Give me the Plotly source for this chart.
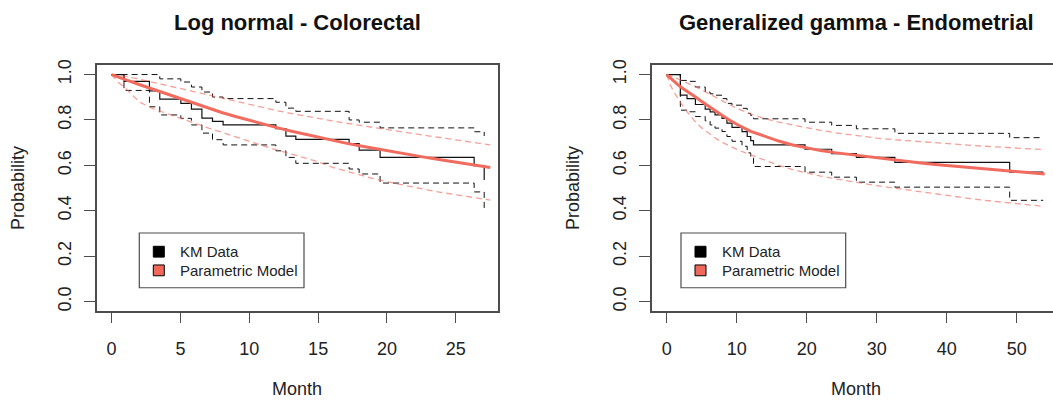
import plotly.graph_objects as go

# ---------------- Colorectal: Kaplan-Meier estimate with 95% CI ----------------
crc_km_t = [0, 0.9, 2.75, 3.5, 5.03, 5.8, 6.56, 7.33, 8.1, 11.93, 12.66, 13.38, 17.25, 17.98, 19.5, 26.33, 27.06]
crc_km_s = [1.0, 0.97, 0.928, 0.892, 0.873, 0.848, 0.808, 0.794, 0.778, 0.762, 0.729, 0.714, 0.696, 0.667, 0.635, 0.599, 0.536]
crc_km_hi = [1.0, 1.0, 1.0, 0.981, 0.967, 0.945, 0.923, 0.901, 0.894, 0.878, 0.852, 0.838, 0.80, 0.79, 0.765, 0.748, 0.729]
crc_km_lo = [1.0, 0.93, 0.858, 0.822, 0.807, 0.778, 0.742, 0.713, 0.69, 0.664, 0.635, 0.609, 0.584, 0.562, 0.522, 0.483, 0.396]

# Log-normal fit with pointwise band
crc_fit_t = [0, 0.5, 1, 2, 3, 4, 5, 6, 7, 8, 9, 10, 11, 12, 13, 14, 15, 16, 17, 18, 19, 20,
             21, 22, 23, 24, 25, 26, 27, 27.5]
crc_fit_s = [1.0, 0.99, 0.978, 0.956, 0.935, 0.914, 0.893, 0.872, 0.852, 0.833, 0.815, 0.798,
             0.782, 0.766, 0.751, 0.737, 0.723, 0.710, 0.698, 0.686, 0.675, 0.664, 0.653,
             0.643, 0.633, 0.624, 0.614, 0.605, 0.596, 0.591]
crc_fit_hi = [1.0, 0.997, 0.992, 0.98, 0.966, 0.951, 0.937, 0.923, 0.909, 0.895, 0.881, 0.867,
              0.854, 0.841, 0.829, 0.817, 0.806, 0.796, 0.786, 0.776, 0.766, 0.757, 0.748,
              0.739, 0.730, 0.721, 0.712, 0.703, 0.694, 0.690]
crc_fit_lo = [1.0, 0.965, 0.94, 0.88, 0.85, 0.828, 0.806, 0.785, 0.765, 0.746, 0.725, 0.705,
              0.686, 0.668, 0.650, 0.633, 0.616, 0.592, 0.575, 0.558, 0.542, 0.528, 0.515,
              0.503, 0.491, 0.480, 0.470, 0.461, 0.452, 0.447]

# ---------------- Endometrial: Kaplan-Meier estimate with 95% CI ----------------
end_km_t = [0, 1.95, 2.9, 4.1, 5.5, 6.2, 6.9, 7.9, 8.6, 9.33, 10.76, 11.5, 12.0, 12.4, 19.76,
            23.57, 27.1, 32.6, 49.0, 53.8]
end_km_s = [1.0, 0.909, 0.894, 0.868, 0.848, 0.836, 0.822, 0.807, 0.786, 0.767, 0.749, 0.727,
            0.709, 0.69, 0.671, 0.652, 0.635, 0.613, 0.570, 0.570]
end_km_hi = [1.0, 0.974, 0.97, 0.945, 0.923, 0.915, 0.909, 0.894, 0.873, 0.865, 0.851, 0.829,
             0.82, 0.805, 0.79, 0.776, 0.761, 0.741, 0.722, 0.722]
end_km_lo = [1.0, 0.843, 0.836, 0.815, 0.796, 0.778, 0.764, 0.749, 0.727, 0.706, 0.684, 0.655,
             0.633, 0.595, 0.570, 0.548, 0.526, 0.504, 0.446, 0.446]

# Generalized gamma fit with pointwise band
end_fit_t = [0, 0.5, 1, 1.5, 2, 3, 4, 5, 6, 7, 8, 9, 10, 12, 14, 16, 18, 20, 22, 24, 26, 28,
             30, 32, 34, 36, 38, 40, 42, 44, 46, 48, 50, 52, 54]
end_fit_s = [1.0, 0.985, 0.971, 0.958, 0.945, 0.922, 0.903, 0.881, 0.859, 0.838, 0.818, 0.799,
             0.781, 0.750, 0.727, 0.707, 0.690, 0.676, 0.665, 0.656, 0.648, 0.640, 0.632,
             0.624, 0.617, 0.611, 0.605, 0.600, 0.595, 0.590, 0.585, 0.580, 0.574, 0.568, 0.562]
end_fit_hi = [1.0, 0.995, 0.989, 0.982, 0.975, 0.962, 0.948, 0.932, 0.916, 0.899, 0.882, 0.866,
              0.851, 0.826, 0.806, 0.790, 0.777, 0.765, 0.754, 0.744, 0.735, 0.727, 0.720,
              0.714, 0.709, 0.704, 0.699, 0.695, 0.691, 0.687, 0.683, 0.679, 0.675, 0.672, 0.669]
end_fit_lo = [1.0, 0.955, 0.925, 0.898, 0.875, 0.832, 0.795, 0.765, 0.740, 0.719, 0.700, 0.684,
              0.670, 0.646, 0.622, 0.600, 0.581, 0.566, 0.553, 0.541, 0.530, 0.520, 0.511,
              0.502, 0.493, 0.484, 0.476, 0.467, 0.459, 0.451, 0.444, 0.437, 0.431, 0.425, 0.419]

titles = ["Log normal - Colorectal", "Generalized gamma - Endometrial"]
x_ticks = [[0, 5, 10, 15, 20, 25], [0, 10, 20, 30, 40, 50]]
y_ticks = [0.0, 0.2, 0.4, 0.6, 0.8, 1.0]
y_tick_text = ["0.0", "0.2", "0.4", "0.6", "0.8", "1.0"]
legend_labels = ["KM Data", "Parametric Model"]

W, H = 1053, 406
FONT = "Liberation Sans, Arial, Helvetica, sans-serif"
RED = "#F26B5F"
RED_BAND = "rgba(242, 107, 95, 0.65)"
BLACK = "#111111"
BOX = "#4d4d4d"


def xp(px):
    return px / W


def yp(py):
    return 1 - py / H


fig = go.Figure()

panels = [
    (crc_km_t, crc_km_s, crc_km_hi, crc_km_lo, crc_fit_t, crc_fit_s, crc_fit_hi, crc_fit_lo),
    (end_km_t, end_km_s, end_km_hi, end_km_lo, end_fit_t, end_fit_s, end_fit_hi, end_fit_lo),
]

for i, (kt, ks, khi, klo, ft, fs, fhi, flo) in enumerate(panels):
    xa = "x" if i == 0 else "x2"
    ya = "y" if i == 0 else "y2"
    common = dict(xaxis=xa, yaxis=ya, mode="lines", showlegend=False, hoverinfo="skip")
    # KM confidence limits (dashed steps)
    for band in (khi, klo):
        fig.add_trace(go.Scatter(x=kt, y=band, line=dict(color=BLACK, width=1, dash="6px,4px", shape="hv"), **common))
    # KM estimate (solid steps)
    fig.add_trace(go.Scatter(x=kt, y=ks, line=dict(color=BLACK, width=1.2, shape="hv"), **common))
    # parametric confidence band
    for band in (fhi, flo):
        fig.add_trace(go.Scatter(x=ft, y=band, line=dict(color=RED_BAND, width=1.3, dash="6px,4px"), **common))
    # parametric survival curve
    fig.add_trace(go.Scatter(x=ft, y=fs, line=dict(color=RED, width=3), **common))

axis_font = dict(family=FONT, size=18, color="#222222")

# plot-area geometry (pixels)
left_box = (96.7, 497.7)
right_box = (651.6, 1053.0)
box_top, box_bottom = 60.5, 310.0

fig.update_layout(
    width=W, height=H,
    margin=dict(l=0, r=0, t=0, b=0),
    paper_bgcolor="white", plot_bgcolor="white",
    xaxis=dict(domain=[xp(left_box[0]), xp(left_box[1])], range=[-1.08, 28.04],
               tickvals=x_ticks[0], ticks="outside", ticklen=11, tickcolor=BOX, tickwidth=1.2,
               showline=True, linecolor=BOX, linewidth=1.5, mirror=True,
               showgrid=False, zeroline=False, tickfont=axis_font, ticklabelstandoff=10),
    yaxis=dict(domain=[yp(box_bottom), yp(box_top)], range=[-0.04, 1.04],
               tickvals=y_ticks, ticktext=y_tick_text, tickangle=-90,
               ticks="outside", ticklen=11, tickcolor=BOX, tickwidth=1.2,
               showline=True, linecolor=BOX, linewidth=1.5, mirror=True,
               showgrid=False, zeroline=False, tickfont=axis_font, ticklabelstandoff=6),
    xaxis2=dict(domain=[xp(right_box[0]), 1.0], range=[-2.16, 55.19],
                tickvals=x_ticks[1], ticks="outside", ticklen=11, tickcolor=BOX, tickwidth=1.2,
                showline=True, linecolor=BOX, linewidth=1.5, mirror=True, anchor="y2",
                showgrid=False, zeroline=False, tickfont=axis_font, ticklabelstandoff=10),
    yaxis2=dict(domain=[yp(box_bottom), yp(box_top)], range=[-0.04, 1.04], anchor="x2",
                tickvals=y_ticks, ticktext=y_tick_text, tickangle=-90,
                ticks="outside", ticklen=11, tickcolor=BOX, tickwidth=1.2,
                showline=True, linecolor=BOX, linewidth=1.5, mirror=False,
                showgrid=False, zeroline=False, tickfont=axis_font, ticklabelstandoff=6),
)

annotations = []
shapes = []

title_cx = [(left_box[0] + left_box[1]) / 2, 856.0]
ylabel_x = [18.0, 573.0]
legend_left = [139.3, 681.0]

for i in range(2):
    annotations.append(dict(text="<b>" + titles[i] + "</b>", x=xp(title_cx[i]), y=yp(17),
                            xref="paper", yref="paper", showarrow=False,
                            xanchor="center", yanchor="middle",
                            font=dict(family=FONT, size=22, color="#111111")))
    box_cx = title_cx[i]
    annotations.append(dict(text="Month", x=xp(box_cx), y=yp(390), xref="paper", yref="paper",
                            showarrow=False, xanchor="center", yanchor="middle", font=axis_font))
    annotations.append(dict(text="Probability", x=xp(ylabel_x[i]), y=yp((box_top + box_bottom) / 2),
                            xref="paper", yref="paper", showarrow=False, textangle=-90,
                            xanchor="center", yanchor="middle", font=axis_font))

    # legend frame
    lx = legend_left[i]
    shapes.append(dict(type="rect", xref="paper", yref="paper",
                       x0=xp(lx), x1=xp(lx + 164.7), y0=yp(286.7), y1=yp(231),
                       line=dict(color=BOX, width=1.2), fillcolor="white"))
    for j, (label, fill) in enumerate(zip(legend_labels, ["#000000", "#F0675C"])):
        cy = 250 + 19 * j
        shapes.append(dict(type="rect", xref="paper", yref="paper",
                           x0=xp(lx + 14), x1=xp(lx + 25), y0=yp(cy + 5.5), y1=yp(cy - 5.5),
                           line=dict(color="#000000", width=1), fillcolor=fill))
        annotations.append(dict(text=label, x=xp(lx + 38.5), y=yp(cy), xref="paper", yref="paper",
                                showarrow=False, xanchor="left", yanchor="middle",
                                font=dict(family=FONT, size=15, color="#222222")))

fig.update_layout(annotations=annotations, shapes=shapes)

fig.write_html("out.html")
